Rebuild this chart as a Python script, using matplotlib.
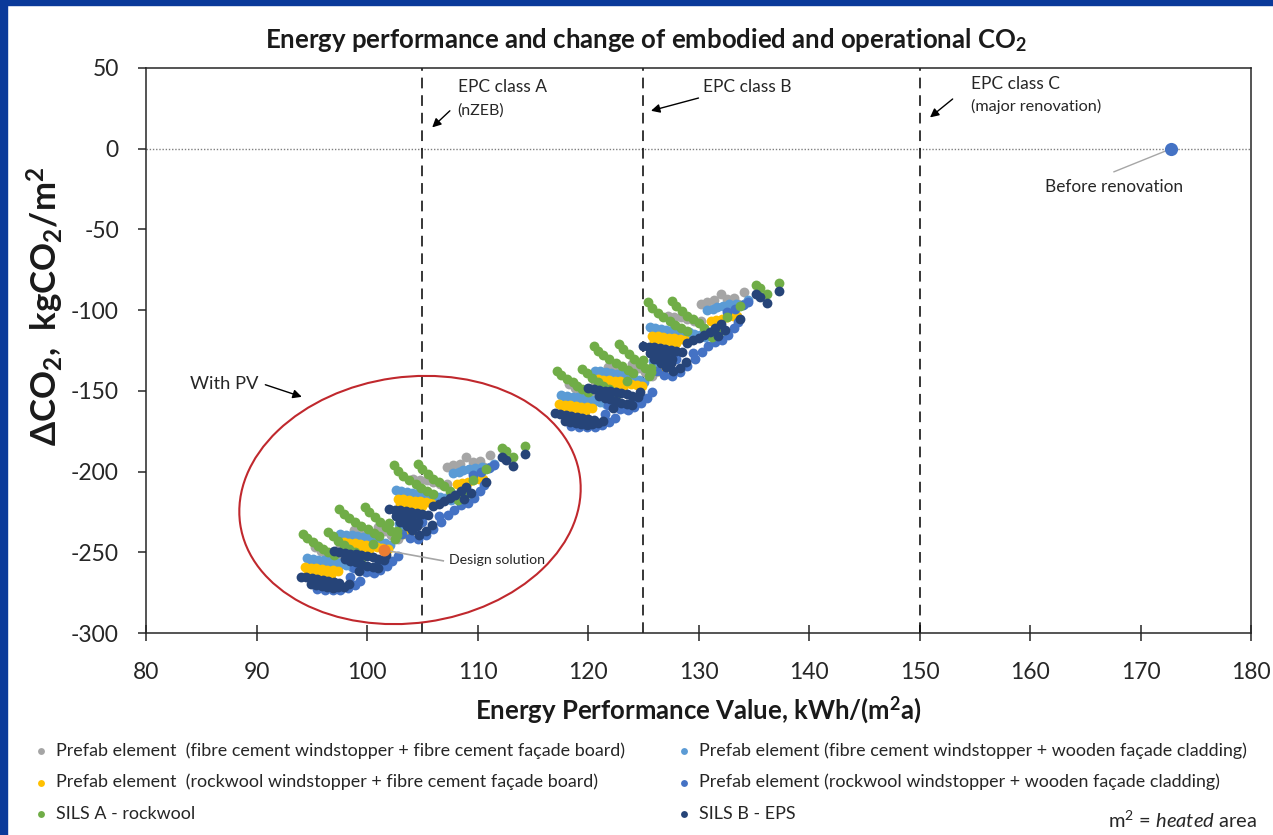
import numpy as np
import matplotlib
matplotlib.use("Agg")
import matplotlib.pyplot as plt
from matplotlib.patches import Ellipse, Rectangle
from matplotlib.transforms import IdentityTransform

plt.rcParams['font.family'] = ['Lato', 'DejaVu Sans']
plt.rcParams['mathtext.fontset'] = 'custom'
plt.rcParams['mathtext.rm'] = 'Lato'
plt.rcParams['mathtext.it'] = 'Lato:italic'
plt.rcParams['mathtext.bf'] = 'Lato:bold'
plt.rcParams['axes.unicode_minus'] = False

# --- data: (energy value kWh/m2a, delta CO2 kg/m2) ---
gray_base = [(118.3, -146.0), (118.8, -148.0), (119.3, -150.0), (119.9, -152.0), (120.5, -153.5),
             (120.6, -145.5), (121.1, -147.5), (121.6, -149.5), (122.2, -151.5),
             (121.8, -135.0), (122.4, -135.8), (123.0, -137.0), (123.6, -139.0),
             (124.0, -133.5), (124.6, -136.0), (125.2, -138.5), (125.8, -140.5),
             (127.2, -103.5), (127.8, -104.0), (128.4, -104.5), (129.0, -105.5), (129.6, -106.5), (130.2, -107.0),
             (130.2, -96.0), (130.8, -95.0), (131.4, -94.0), (132.0, -90.0), (132.6, -93.0), (133.2, -92.5),
             (133.6, -96.0), (134.1, -89.0)]
gray_pv = [(95.3, -247.0), (95.8, -249.0), (96.3, -251.0), (96.9, -253.0), (97.5, -254.5),
           (97.6, -246.5), (98.1, -248.5), (98.6, -250.5), (99.2, -252.5),
           (98.8, -236.0), (99.4, -236.8), (100.0, -238.0), (100.6, -240.0),
           (101.0, -234.5), (101.6, -237.0), (102.2, -239.5), (102.8, -241.5),
           (104.2, -204.5), (104.8, -205.0), (105.4, -205.5), (106.0, -206.5), (106.6, -207.5), (107.2, -208.0),
           (107.2, -197.0), (107.8, -196.0), (108.4, -195.0), (109.0, -191.0), (109.6, -194.0), (110.2, -193.5),
           (110.6, -197.0), (111.1, -190.0)]

lblue_base = [(117.6, -152.5), (118.1, -153.0), (118.6, -153.5), (119.1, -154.0), (119.6, -154.5),
              (120.1, -155.0), (120.6, -155.8), (121.1, -156.8), (121.6, -158.0),
              (118.0, -156.0), (118.6, -156.5), (119.2, -157.0), (119.8, -157.5), (120.4, -158.0),
              (120.6, -137.5), (121.1, -138.0), (121.6, -138.5), (122.1, -139.0), (122.6, -139.5),
              (123.1, -140.2), (123.6, -141.0), (124.1, -142.0), (124.6, -143.0), (125.1, -144.5),
              (121.0, -141.0), (121.6, -141.5), (122.2, -142.0), (122.8, -142.5), (123.4, -143.0),
              (125.6, -110.5), (126.1, -111.0), (126.6, -111.5), (127.1, -112.0), (127.6, -112.3), (128.1, -112.6),
              (128.6, -113.0), (129.1, -113.6), (129.6, -114.5), (130.1, -115.5), (130.6, -116.5),
              (126.0, -114.0), (126.6, -114.4), (127.2, -114.8), (127.8, -115.2), (128.4, -115.6), (129.0, -116.2),
              (130.8, -100.0), (131.3, -99.5), (131.7, -98.3), (132.2, -97.5), (132.8, -96.5), (133.4, -96.2),
              (134.1, -96.2), (134.5, -94.0), (125.9, -131.4), (126.4, -132.5)]
lblue_pv = [(94.6, -253.5), (95.1, -254.0), (95.6, -254.5), (96.1, -255.0), (96.6, -255.5),
            (97.1, -256.0), (97.6, -256.8), (98.1, -257.8), (98.6, -259.0),
            (95.0, -257.0), (95.6, -257.5), (96.2, -258.0), (96.8, -258.5), (97.4, -259.0),
            (97.6, -238.5), (98.1, -239.0), (98.6, -239.5), (99.1, -240.0), (99.6, -240.5),
            (100.1, -241.2), (100.6, -242.0), (101.1, -243.0), (101.6, -244.0), (102.1, -245.5),
            (98.0, -242.0), (98.6, -242.5), (99.2, -243.0), (99.8, -243.5), (100.4, -244.0),
            (102.6, -211.5), (103.1, -212.0), (103.6, -212.5), (104.1, -213.0), (104.6, -213.3), (105.1, -213.6),
            (105.6, -214.0), (106.1, -214.6), (106.6, -215.5), (107.1, -216.5), (107.6, -217.5),
            (103.0, -215.0), (103.6, -215.4), (104.2, -215.8), (104.8, -216.2), (105.4, -216.6), (106.0, -217.2),
            (107.8, -201.0), (108.3, -200.5), (108.7, -199.3), (109.2, -198.5), (109.8, -197.5), (110.4, -197.2),
            (111.1, -197.2), (111.5, -195.0), (102.9, -232.4), (103.4, -233.5)]

yellow_base = [(117.4, -158.2), (117.9, -158.6), (118.4, -159.0), (118.9, -159.3), (119.4, -159.7),
               (119.9, -160.2), (120.4, -160.8),
               (117.7, -161.0), (118.2, -161.5), (118.7, -162.0), (119.2, -162.3), (119.7, -162.8),
               (120.9, -142.6), (121.4, -143.0), (121.9, -143.4), (122.4, -143.8), (122.9, -144.2),
               (123.4, -144.8), (123.9, -145.5), (124.4, -146.2),
               (121.2, -145.5), (121.7, -146.0), (122.2, -146.5), (122.7, -147.0), (123.2, -147.5),
               (125.8, -116.0), (126.3, -116.3), (126.8, -116.7), (127.3, -117.0), (127.8, -117.4),
               (128.3, -117.8), (128.8, -118.2),
               (126.0, -119.0), (126.5, -119.4), (127.0, -119.8), (127.5, -120.2), (128.0, -120.6),
               (131.1, -106.6), (131.6, -106.0), (132.1, -105.2), (132.6, -104.4), (133.1, -103.8), (133.5, -103.5),
               (126.3, -137.5), (126.8, -138.2), (124.9, -146.8)]
yellow_pv = [(94.4, -259.2), (94.9, -259.6), (95.4, -260.0), (95.9, -260.3), (96.4, -260.7),
             (96.9, -261.2), (97.4, -261.8),
             (94.7, -262.0), (95.2, -262.5), (95.7, -263.0), (96.2, -263.3), (96.7, -263.8),
             (97.9, -243.6), (98.4, -244.0), (98.9, -244.4), (99.4, -244.8), (99.9, -245.2),
             (100.4, -245.8), (100.9, -246.5), (101.4, -247.2),
             (98.2, -246.5), (98.7, -247.0), (99.2, -247.5), (99.7, -248.0), (100.2, -248.5),
             (102.8, -217.0), (103.3, -217.3), (103.8, -217.7), (104.3, -218.0), (104.8, -218.4),
             (105.3, -218.8), (105.8, -219.2),
             (103.0, -220.0), (103.5, -220.4), (104.0, -220.8), (104.5, -221.2), (105.0, -221.6),
             (108.1, -207.6), (108.6, -207.0), (109.1, -206.2), (109.6, -205.4), (110.1, -204.8), (110.5, -204.5),
             (103.3, -238.5), (103.8, -239.2), (101.9, -247.8)]

blue_base = [(118.5, -171.5), (119.2, -172.3), (119.9, -172.6), (120.6, -172.3), (121.3, -171.0),
             (121.9, -169.0), (122.4, -166.8),
             (122.9, -161.5), (123.6, -161.8), (124.2, -160.0), (124.8, -157.5), (125.3, -154.5), (125.8, -151.0),
             (126.2, -137.5), (126.9, -140.0), (127.6, -140.5), (128.3, -138.5), (129.0, -134.5), (129.7, -130.0),
             (130.3, -126.0), (130.9, -122.5), (131.5, -120.0), (132.1, -118.5), (132.7, -115.5), (133.2, -111.0),
             (133.6, -107.5), (132.6, -101.0), (133.3, -99.0), (134.0, -97.0), (134.5, -95.0),
             (121.5, -164.5), (124.0, -157.0), (128.0, -130.0), (129.5, -126.5),
             (121.8, -158.5), (122.6, -159.5), (123.3, -160.5)]
blue_pv = [(95.5, -272.5), (96.2, -273.3), (96.9, -273.6), (97.6, -273.3), (98.3, -272.0),
           (98.9, -270.0), (99.4, -267.8),
           (99.9, -262.5), (100.6, -262.8), (101.2, -261.0), (101.8, -258.5), (102.3, -255.5), (102.8, -252.0),
           (103.2, -238.5), (103.9, -241.0), (104.6, -241.5), (105.3, -239.5), (106.0, -235.5), (106.7, -231.0),
           (107.3, -227.0), (107.9, -223.5), (108.5, -221.0), (109.1, -219.5), (109.7, -216.5), (110.2, -212.0),
           (110.6, -208.5), (109.6, -202.0), (110.3, -200.0), (111.0, -198.0), (111.5, -196.0),
           (98.5, -265.5), (101.0, -258.0), (105.0, -231.0), (106.5, -227.5),
           (98.8, -259.5), (99.6, -260.5), (100.3, -261.5)]

green_base = [(117.2, -137.5), (117.6, -140.3), (118.1, -142.6), (118.6, -144.8), (119.0, -146.9), (119.5, -148.8), (120.0, -150.6),
              (119.5, -136.3), (119.9, -139.2), (120.4, -142.0), (120.9, -144.5), (121.4, -146.8), (121.9, -148.9), (122.4, -151.0),
              (120.5, -122.0), (120.9, -125.0), (121.4, -128.0), (121.9, -130.5), (122.5, -132.6), (123.1, -134.6),
              (123.6, -136.8), (124.1, -138.8),
              (122.8, -120.8), (123.2, -124.0), (123.7, -127.3), (124.2, -130.5), (124.7, -133.5), (125.2, -136.0), (125.7, -138.5),
              (125.4, -95.2), (125.8, -98.5), (126.3, -101.8), (126.8, -104.4), (127.4, -106.8), (127.9, -109.0),
              (128.4, -111.0), (129.0, -113.0),
              (127.6, -94.2), (128.0, -97.4), (128.5, -100.8), (129.0, -103.4), (129.5, -105.6), (130.0, -108.0),
              (130.5, -110.8), (131.1, -114.0),
              (131.2, -116.9), (132.2, -112.0), (132.6, -104.5), (133.8, -97.3), (135.2, -84.3), (135.6, -86.0),
              (136.2, -89.9), (137.3, -83.4), (125.0, -131.0), (125.7, -135.7), (125.5, -140.6), (122.5, -153.0),
              (123.5, -143.7)]
green_pv = [(94.2, -238.5), (94.6, -241.3), (95.1, -243.6), (95.6, -245.8), (96.0, -247.9), (96.5, -249.8), (97.0, -251.6),
            (96.5, -237.3), (96.9, -240.2), (97.4, -243.0), (97.9, -245.5), (98.4, -247.8), (98.9, -249.9), (99.4, -252.0),
            (97.5, -223.0), (97.9, -226.0), (98.4, -229.0), (98.9, -231.5), (99.5, -233.6), (100.1, -235.6),
            (100.6, -237.8), (101.1, -239.8),
            (99.8, -221.8), (100.2, -225.0), (100.7, -228.3), (101.2, -231.5), (101.7, -234.5), (102.2, -237.0), (102.7, -239.5),
            (102.4, -196.2), (102.8, -199.5), (103.3, -202.8), (103.8, -205.4), (104.4, -207.8), (104.9, -210.0),
            (105.4, -212.0), (106.0, -214.0),
            (104.6, -195.2), (105.0, -198.4), (105.5, -201.8), (106.0, -204.4), (106.5, -206.6), (107.0, -209.0),
            (107.5, -211.8), (108.1, -215.0),
            (108.2, -217.9), (109.2, -213.0), (109.6, -205.5), (110.8, -198.3), (112.2, -185.3), (112.6, -187.0),
            (113.2, -190.9), (114.3, -184.4), (102.0, -232.0), (102.7, -236.7), (102.5, -241.6), (99.5, -254.0),
            (100.5, -244.7)]

navy_base = [(117.0, -164.0), (117.5, -164.6), (118.0, -165.2), (118.5, -165.8), (119.0, -166.3), (119.5, -166.8),
             (120.0, -167.4), (120.5, -168.0),
             (117.9, -168.6), (118.4, -169.4), (118.9, -170.0), (119.4, -170.6), (119.9, -171.0), (120.4, -170.8),
             (120.9, -170.2), (121.4, -168.8),
             (120.0, -148.2), (120.5, -148.8), (121.0, -149.3), (121.5, -149.8), (122.0, -150.3), (122.5, -150.9),
             (123.0, -151.5), (123.5, -152.2), (124.0, -153.0), (124.5, -154.0),
             (121.0, -153.2), (121.5, -154.2), (122.0, -155.2), (122.5, -156.2), (123.0, -157.3), (123.5, -158.4),
             (124.0, -159.0), (122.3, -160.5), (124.7, -150.5),
             (125.0, -122.0), (125.5, -122.6), (126.0, -123.1), (126.5, -123.6), (127.0, -124.1), (127.5, -124.6),
             (128.0, -125.2), (128.5, -125.8),
             (125.6, -126.3), (126.1, -127.3), (126.6, -128.3), (127.1, -129.3), (127.6, -130.3),
             (126.0, -130.5), (126.5, -131.2), (127.0, -132.0), (127.5, -133.0),
             (126.6, -133.0), (127.1, -135.5), (127.7, -138.0), (128.3, -136.0), (128.9, -132.0),
             (129.0, -120.5), (129.5, -118.8), (130.0, -117.2), (130.5, -115.6), (131.0, -113.8), (131.5, -111.0),
             (132.0, -108.4), (132.4, -112.0), (131.8, -116.0),
             (133.8, -105.4), (135.2, -90.0), (135.6, -92.0), (136.2, -95.8), (137.3, -88.4)]
navy_pv = [(94.0, -265.0), (94.5, -265.6), (95.0, -266.2), (95.5, -266.8), (96.0, -267.3), (96.5, -267.8),
           (97.0, -268.4), (97.5, -269.0),
           (94.9, -269.6), (95.4, -270.4), (95.9, -271.0), (96.4, -271.6), (96.9, -272.0), (97.4, -271.8),
           (97.9, -271.2), (98.4, -269.8),
           (97.0, -249.2), (97.5, -249.8), (98.0, -250.3), (98.5, -250.8), (99.0, -251.3), (99.5, -251.9),
           (100.0, -252.5), (100.5, -253.2), (101.0, -254.0), (101.5, -255.0),
           (98.0, -254.2), (98.5, -255.2), (99.0, -256.2), (99.5, -257.2), (100.0, -258.3), (100.5, -259.4),
           (101.0, -260.0), (99.3, -261.5), (101.7, -251.5),
           (102.0, -223.0), (102.5, -223.6), (103.0, -224.1), (103.5, -224.6), (104.0, -225.1), (104.5, -225.6),
           (105.0, -226.2), (105.5, -226.8),
           (102.6, -227.3), (103.1, -228.3), (103.6, -229.3), (104.1, -230.3), (104.6, -231.3),
           (103.0, -231.5), (103.5, -232.2), (104.0, -233.0), (104.5, -234.0),
           (103.6, -234.0), (104.1, -236.5), (104.7, -239.0), (105.3, -237.0), (105.9, -233.0),
           (106.0, -221.5), (106.5, -219.8), (107.0, -218.2), (107.5, -216.6), (108.0, -214.8), (108.5, -212.0),
           (109.0, -209.4), (109.4, -213.0), (108.8, -217.0),
           (110.8, -206.4), (112.2, -191.0), (112.6, -193.0), (113.2, -196.8), (114.3, -189.4)]

before_renovation = (172.8, 0.0)
design_solution = (101.5, -248.5)
epc_limits = [105, 125, 150]

labels = ['Prefab element  (fibre cement windstopper + fibre cement façade board)',
          'Prefab element (fibre cement windstopper + wooden façade cladding)',
          'Prefab element  (rockwool windstopper + fibre cement façade board)',
          'Prefab element (rockwool windstopper + wooden façade cladding)',
          'SILS A - rockwool',
          'SILS B - EPS']
series = [gray_base + gray_pv, lblue_base + lblue_pv, yellow_base + yellow_pv,
          blue_base + blue_pv, green_base + green_pv, navy_base + navy_pv]
colors = ['#A5A5A5', '#5B9BD5', '#FFC000', '#4472C4', '#70AD47', '#264478']

# --- figure ---
fig = plt.figure(figsize=(12.73, 8.35), dpi=100)
ax = fig.add_axes([146 / 1273, 1 - 633 / 835, 1105 / 1273, 565 / 835])

handles = []
for pts, c, lab in zip(series, colors, labels):
    arr = np.array(pts)
    h = ax.scatter(arr[:, 0], arr[:, 1], s=50, color=c, linewidths=0, label=lab, zorder=3)
    handles.append(h)

ax.scatter(*before_renovation, s=90, color='#4472C4', linewidths=0, zorder=4)
ax.scatter(*design_solution, s=75, color='#ED7D31', linewidths=0, zorder=5)

for xv in epc_limits:
    ax.axvline(xv, color='black', lw=1.1, linestyle=(0, (7, 4.5)), zorder=2)
ax.axhline(0, color='#7f7f7f', lw=1.0, linestyle=(0, (1, 1.3)), zorder=1)

ax.set_xlim(80, 180)
ax.set_ylim(-300, 50)
ax.set_xticks(np.arange(80, 181, 10))
ax.set_yticks(np.arange(-300, 51, 50))
for sp in ax.spines.values():
    sp.set_color('#262626')
    sp.set_linewidth(1.1)
ax.tick_params(axis='y', direction='out', length=6, width=1.1, pad=13.5,
               labelsize=16.5, colors='#262626')
ax.tick_params(axis='x', direction='inout', length=12, width=1.1, pad=15,
               labelsize=16.5, colors='#262626')

# annotations
arrow = dict(arrowstyle='-|>', color='black', lw=1.0, mutation_scale=13, shrinkA=0, shrinkB=0)
ax.text(108.2, 38.4, 'EPC class A', fontsize=12.5, va='center', color='#262626')
ax.text(108.2, 23.5, '(nZEB)', fontsize=11.5, va='center', color='#262626')
ax.annotate('', xy=(105.9, 13.2), xytext=(107.5, 23.5), arrowprops=arrow)
ax.text(130.45, 38.0, 'EPC class B', fontsize=12.5, va='center', color='#262626')
ax.annotate('', xy=(125.7, 23.5), xytext=(130.0, 31.4), arrowprops=arrow)
ax.text(154.7, 40.0, 'EPC class C', fontsize=12.5, va='center', color='#262626')
ax.text(154.7, 26.0, '(major renovation)', fontsize=11.7, va='center', color='#262626')
ax.annotate('', xy=(150.95, 19.4), xytext=(153.0, 30.8), arrowprops=arrow)
ax.text(84.0, -145.6, 'With PV', fontsize=13.2, va='center', color='#262626')
ax.annotate('', xy=(94.1, -153.7), xytext=(90.8, -146.2), arrowprops=arrow)

ax.plot([172.6, 167.6], [-0.5, -14.3], color='#a6a6a6', lw=1.0, zorder=3)
ax.text(167.65, -23.5, 'Before renovation', fontsize=12.4, ha='center', va='center', color='#262626')
ax.plot([101.7, 106.9], [-248.8, -255.3], color='#a6a6a6', lw=1.2, zorder=4)
ax.text(107.4, -254.6, 'Design solution', fontsize=10.2, va='center', color='#262626')

ring = Ellipse((410, 835 - 500), 343, 246, angle=8, fill=False, edgecolor='#c0282d',
               lw=1.5, transform=IdentityTransform(), zorder=2)
ax.add_patch(ring)

# titles and axis labels
fig.text(646 / 1273, 1 - 40 / 835, 'Energy performance and change of embodied and operational CO$_\\mathbf{2}$',
         ha='center', va='center', fontsize=18.5, fontweight='bold', color='#1a1a1a')
fig.text(699 / 1273, 1 - 710 / 835, 'Energy Performance Value, kWh/(m$^\\mathbf{2}$a)',
         ha='center', va='center', fontsize=18.5, fontweight='bold', color='#1a1a1a')
fig.text(45 / 1273, 1 - 306 / 835, 'ΔCO$_\\mathbf{2}$,  kgCO$_\\mathbf{2}$/m$^\\mathbf{2}$',
         ha='center', va='center', rotation=90, fontsize=25, fontweight='bold', color='#1a1a1a')

# legend in two columns
leg_kw = dict(frameon=False, fontsize=12.9, markerscale=0.7, handlelength=0.6, handletextpad=0.5,
              labelspacing=0.85, borderpad=0, borderaxespad=0, labelcolor='#262626')
fig.legend([handles[0], handles[2], handles[4]], [labels[0], labels[2], labels[4]],
           loc='upper left', bbox_to_anchor=(36 / 1273, 1 - 742 / 835), **leg_kw)
fig.legend([handles[1], handles[3], handles[5]], [labels[1], labels[3], labels[5]],
           loc='upper left', bbox_to_anchor=(679 / 1273, 1 - 742 / 835), **leg_kw)

fig.text(1257 / 1273, 1 - 831 / 835, 'm$^2$ = $\\it{heated}$ area', ha='right', va='bottom',
         fontsize=14.5, color='#262626')

# blue frame on left and top edge
fig.patches.append(Rectangle((0, 0), 7 / 1273, 1, transform=fig.transFigure, color='#0a3a9a', zorder=10))
fig.patches.append(Rectangle((0, 1 - 5 / 835), 1, 5 / 835, transform=fig.transFigure, color='#0a3a9a', zorder=10))

fig.savefig('out.png', dpi=100)
